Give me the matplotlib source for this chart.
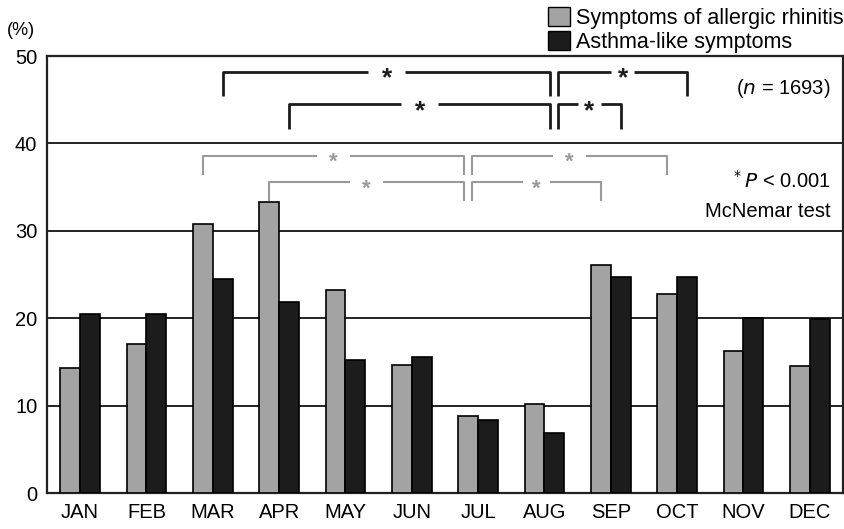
import numpy as np
import matplotlib
matplotlib.use("Agg")
import matplotlib.pyplot as plt
from matplotlib.patches import Patch

plt.rcParams['font.family'] = ['Liberation Sans', 'DejaVu Sans']

# monthly prevalence (%)
months = ['JAN', 'FEB', 'MAR', 'APR', 'MAY', 'JUN',
          'JUL', 'AUG', 'SEP', 'OCT', 'NOV', 'DEC']
rhinitis = [14.3, 17.0, 30.8, 33.3, 23.2, 14.6, 8.8, 10.2, 26.1, 22.8, 16.3, 14.5]
asthma = [20.5, 20.5, 24.5, 21.9, 15.2, 15.6, 8.3, 6.9, 24.7, 24.7, 20.0, 19.9]

# significance brackets: (from month, to month) per series
asthma_pairs = [('MAR', 'AUG'), ('AUG', 'OCT'), ('APR', 'AUG'), ('AUG', 'SEP')]
rhinitis_pairs = [('MAR', 'JUL'), ('JUL', 'OCT'), ('APR', 'JUL'), ('JUL', 'SEP')]

gray = '#a3a3a3'
dark = '#1c1c1c'
w = 0.3

fig = plt.figure(figsize=(8.45, 5.29), dpi=100)
ax = fig.add_axes([0.0556, 0.068, 0.942, 0.826])

x = np.arange(len(months))
b1 = ax.bar(x - w / 2, rhinitis, w, color=gray, edgecolor='black', linewidth=1.2, zorder=3)
b2 = ax.bar(x + w / 2, asthma, w, color=dark, edgecolor='black', linewidth=1.2, zorder=3)

ax.set_xlim(-0.5, 11.5)
ax.set_ylim(0, 50)
ax.set_yticks([0, 10, 20, 30, 40, 50])
ax.set_xticks(x)
ax.set_xticklabels(months)
ax.tick_params(axis='both', length=0, labelsize=14.5)
ax.tick_params(axis='x', pad=7)
ax.tick_params(axis='y', pad=7)
for yv in [10, 20, 30, 40]:
    ax.axhline(yv, color='#222222', lw=1.4, zorder=1)
for s in ax.spines.values():
    s.set_linewidth(1.6)
    s.set_color('#222222')


def bracket(m1, m2, off1, off2, y, drop, color, lw, size, gap, first):
    x1 = months.index(m1) + off1
    x2 = months.index(m2) + off2
    # nudge the two brackets that share a month apart
    if first:
        x2 -= 0.06
    else:
        x1 += 0.06
    xs = (x1 + x2) / 2
    ax.plot([x1, x1, xs - gap], [y - drop, y, y], color=color, lw=lw,
            solid_capstyle='butt', zorder=4)
    ax.plot([xs + gap, x2, x2], [y, y, y - drop], color=color, lw=lw,
            solid_capstyle='butt', zorder=4)
    ax.text(xs, y - 0.8, '*', ha='center', va='center', color=color,
            fontsize=size, fontweight='bold', zorder=4)


# asthma-like symptoms (black bars)
levels_a = [48.2, 48.2, 44.5, 44.5]
for (m1, m2), yv in zip(asthma_pairs, levels_a):
    first = m2 == 'AUG'
    gap = 0.28 if abs(months.index(m2) - months.index(m1)) > 2 else 0.17
    bracket(m1, m2, w / 2, w / 2, yv, 2.8, dark, 2.0, 19, gap, first)

# allergic rhinitis (gray bars)
levels_r = [38.6, 38.6, 35.6, 35.6]
for (m1, m2), yv in zip(rhinitis_pairs, levels_r):
    first = m2 == 'JUL'
    gap = 0.25 if abs(months.index(m2) - months.index(m1)) > 2 else 0.2
    bracket(m1, m2, -w / 2, -w / 2, yv, 2.2, '#9a9a9a', 1.5, 16, gap, first)

ax.text(0.985, 0.925, r'($n$ = 1693)', transform=ax.transAxes, ha='right',
        va='center', fontsize=14.5)
ax.text(0.985, 0.715, r'$^*P$ < 0.001', transform=ax.transAxes, ha='right',
        va='center', fontsize=14.5)
ax.text(0.985, 0.645, 'McNemar test', transform=ax.transAxes, ha='right',
        va='center', fontsize=14.5)

fig.text(0.008, 0.943, '(%)', fontsize=13, ha='left', va='center')

handles = [Patch(facecolor=gray, edgecolor='black', label='Symptoms of allergic rhinitis'),
           Patch(facecolor=dark, edgecolor='black', label='Asthma-like symptoms')]
fig.legend(handles=handles, loc='upper right', bbox_to_anchor=(1.014, 1.012),
           frameon=False, fontsize=15.5, handlelength=1.0, handleheight=1.0,
           handletextpad=0.3, labelspacing=0.1, borderaxespad=0.2)

fig.savefig('out.png', dpi=100)
